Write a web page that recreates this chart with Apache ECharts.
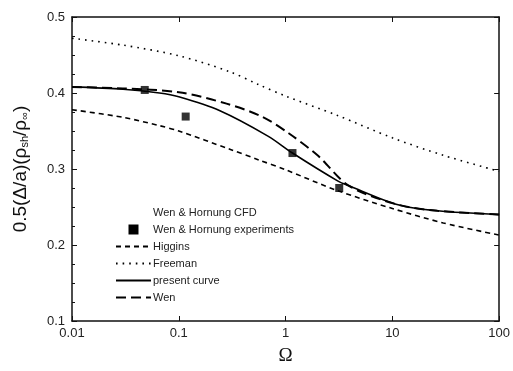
<!DOCTYPE html>
<html>
<head>
    <meta charset="UTF-8">
    <script src="https://cdn.jsdelivr.net/npm/echarts@6/dist/echarts.min.js"></script>
</head>
<body style="margin:0;background:#fff;">
<div id="main" style="width: 513px; height: 371px;"></div>
<script type="text/javascript">
    // values, [omega, value]
    var higgins = [[0.01, 0.378], [0.03, 0.368], [0.066, 0.357], [0.1, 0.350], [0.3, 0.326], [0.56, 0.312],
        [1, 0.299], [3, 0.272], [10, 0.248], [30, 0.229], [100, 0.213]];
    var freeman = [[0.01, 0.472], [0.03, 0.463], [0.1, 0.449], [0.3, 0.428], [0.56, 0.411], [1, 0.396],
        [3, 0.371], [10, 0.341], [30, 0.318], [100, 0.297]];
    var present = [[0.01, 0.408], [0.03, 0.405], [0.066, 0.400], [0.1, 0.395], [0.24, 0.377], [0.69, 0.343],
        [1.16, 0.321], [3.1, 0.284], [3.9, 0.278], [11.3, 0.253], [26.5, 0.245], [100, 0.240]];
    var wen = [[0.01, 0.408], [0.03, 0.406], [0.1, 0.401], [0.28, 0.386], [0.6, 0.369], [1.07, 0.347],
        [2.03, 0.317], [3.9, 0.278], [11.3, 0.253], [26.5, 0.245], [100, 0.240]];
    var experiments = [[0.048, 0.404], [0.116, 0.369], [1.16, 0.321], [3.18, 0.275]];

    var xTickLabels = {0.01: '0.01', 0.1: '0.1', 1: '1', 10: '10', 100: '100'};
    var yTickLabels = ['0.1', '0.2', '0.3', '0.4', '0.5'];

    var myChart = echarts.init(document.getElementById('main'));
    var axisLine = {show: true, lineStyle: {color: '#111', width: 1.5}};
    var option = {
        animation: false,
        grid: {left: 72, right: 11, top: 17, bottom: 46},
        legend: {
            orient: 'vertical',
            left: 110,
            top: 202,
            itemWidth: 35,
            itemHeight: 10,
            itemGap: 6,
            itemStyle: {opacity: 0},
            textStyle: {fontFamily: 'Liberation Sans', fontSize: 11, color: '#222', padding: [0, 0, 0, -3]},
            data: [
                {name: 'Wen & Hornung CFD', icon: 'none'},
                {name: 'Wen & Hornung experiments', icon: 'path://M0,0h1v1h-1z', itemStyle: {opacity: 1}},
                {name: 'Higgins'},
                {name: 'Freeman'},
                {name: 'present curve'},
                {name: 'Wen'}
            ]
        },
        xAxis: [{
            type: 'log',
            logBase: 10,
            min: 0.01,
            max: 100,
            name: 'Ω',
            nameLocation: 'middle',
            nameGap: 26,
            nameTextStyle: {fontFamily: 'Liberation Serif', fontSize: 19, color: '#111'},
            axisLine: axisLine,
            axisTick: {inside: true, length: 5, lineStyle: {color: '#111'}},
            splitLine: {show: false},
            axisLabel: {
                fontFamily: 'Liberation Sans', fontSize: 13, color: '#222', margin: 6,
                formatter: function (v) {
                    return xTickLabels[v] || '';
                }
            }
        }, {
            type: 'log',
            logBase: 10,
            min: 0.01,
            max: 100,
            position: 'top',
            axisLine: axisLine,
            axisTick: {inside: true, length: 5, lineStyle: {color: '#111'}},
            axisLabel: {show: false},
            splitLine: {show: false}
        }],
        yAxis: [{
            type: 'value',
            min: 0.1,
            max: 0.5,
            interval: 0.1,
            name: '0.5(Δ/a)(ρ{s|sh}/ρ{s|∞})',
            nameLocation: 'middle',
            nameRotate: 90,
            nameGap: 42,
            nameTextStyle: {
                fontFamily: 'Liberation Sans', fontSize: 19, color: '#111',
                rich: {s: {fontFamily: 'Liberation Sans', fontSize: 11, color: '#111', padding: [8, 0, 0, 0]}}
            },
            axisLine: axisLine,
            axisTick: {inside: true, length: 5, lineStyle: {color: '#111'}},
            minorTick: {show: true, splitNumber: 4, length: 3, lineStyle: {color: '#111'}},
            splitLine: {show: false},
            axisLabel: {
                fontFamily: 'Liberation Sans', fontSize: 13, color: '#222', margin: 7,
                formatter: function (v) {
                    return yTickLabels[Math.round(v * 10) - 1];
                }
            }
        }, {
            type: 'value',
            min: 0.1,
            max: 0.5,
            interval: 0.1,
            position: 'right',
            axisLine: axisLine,
            axisTick: {inside: true, length: 5, lineStyle: {color: '#111'}},
            axisLabel: {show: false},
            splitLine: {show: false}
        }],
        series: [
            {
                name: 'Wen & Hornung CFD',
                type: 'line',
                data: [],
                symbol: 'none',
                lineStyle: {width: 0}
            },
            {
                name: 'Wen & Hornung experiments',
                type: 'scatter',
                data: experiments,
                symbol: 'rect',
                symbolSize: 8,
                symbolKeepAspect: true,
                itemStyle: {color: '#000'},
                z: 5
            },
            {
                name: 'Higgins',
                type: 'line',
                data: higgins,
                smooth: 0.3,
                symbol: 'none',
                lineStyle: {color: '#000', width: 1.6, type: [5, 4]},
                itemStyle: {color: '#000'}
            },
            {
                name: 'Freeman',
                type: 'line',
                data: freeman,
                smooth: 0.3,
                symbol: 'none',
                lineStyle: {color: '#000', width: 1.6, type: [1.6, 5]},
                itemStyle: {color: '#000'}
            },
            {
                name: 'present curve',
                type: 'line',
                data: present,
                smooth: 0.3,
                symbol: 'none',
                lineStyle: {color: '#000', width: 1.6},
                itemStyle: {color: '#000'}
            },
            {
                name: 'Wen',
                type: 'line',
                data: wen,
                smooth: 0.3,
                symbol: 'none',
                lineStyle: {color: '#000', width: 2, type: [10, 5]},
                itemStyle: {color: '#000'}
            }
        ]
    };
    myChart.setOption(option);
</script>
</body>
</html>
